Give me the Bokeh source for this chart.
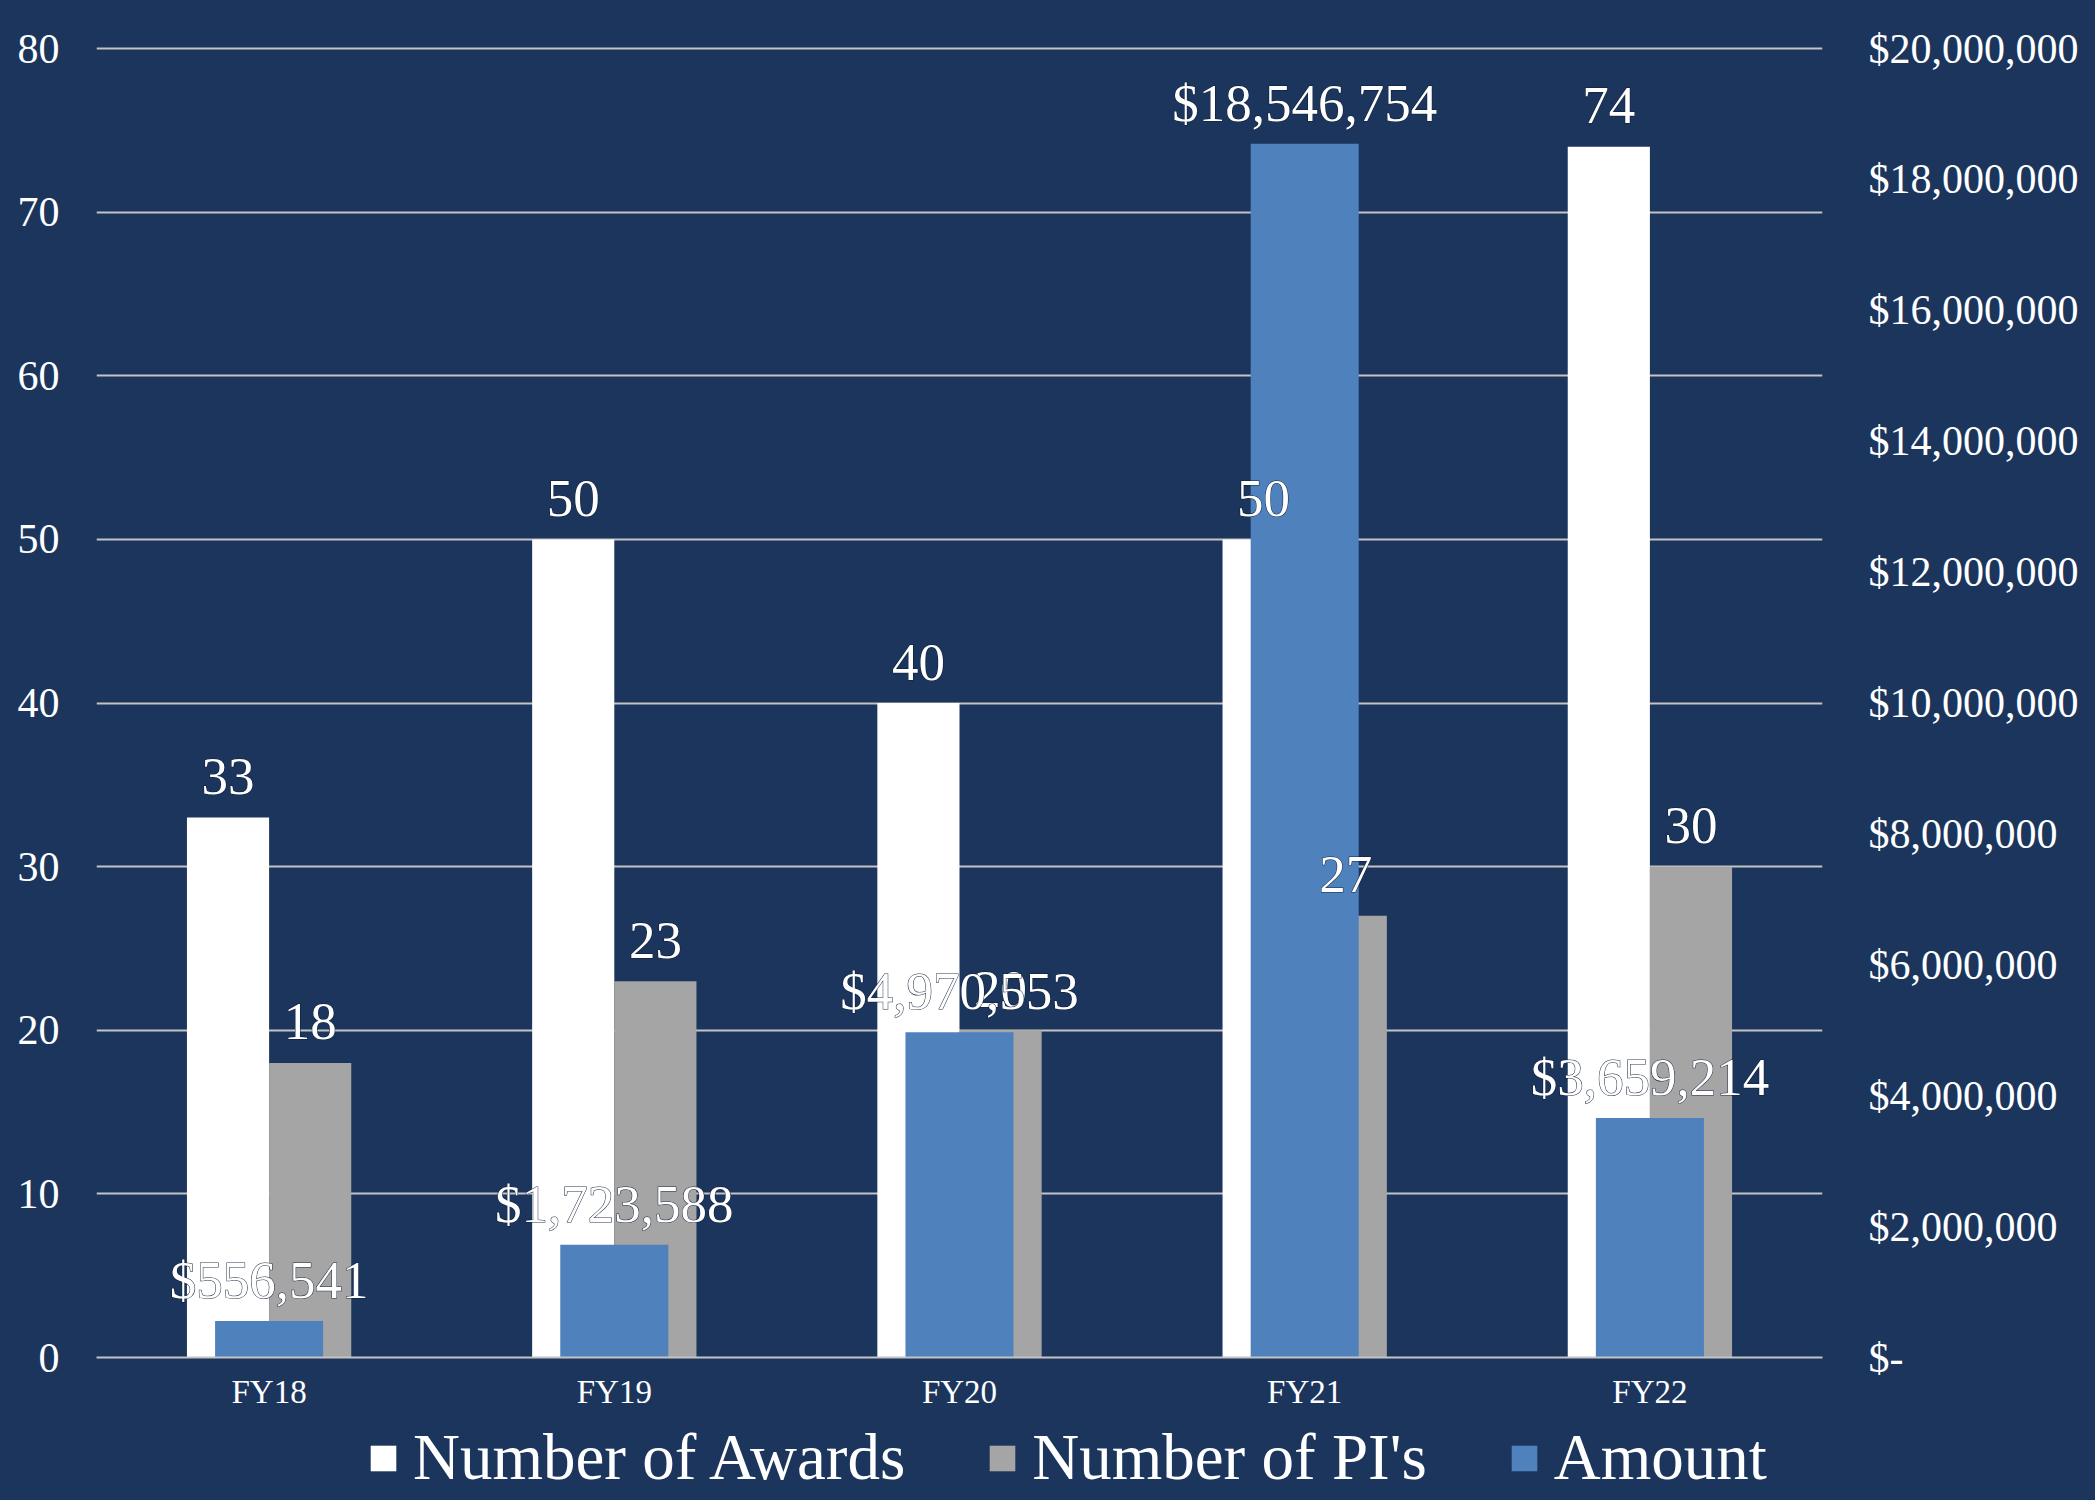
from bokeh.plotting import figure
from bokeh.layouts import column
from bokeh.models import (ColumnDataSource, Range1d, LinearAxis, FactorRange,
                          SingleIntervalTicker, CustomJSTickFormatter, Legend, LegendItem)
from bokeh.transform import dodge
from bokeh.core.properties import value
from bokeh.embed import file_html
from bokeh.resources import INLINE

# ---- data ----
years = ["FY18", "FY19", "FY20", "FY21", "FY22"]
awards = [33, 50, 40, 50, 74]
pis = [18, 23, 20, 27, 30]
amount = [556541, 1723588, 4970553, 18546754, 3659214]
series_names = ["Number of Awards", "Number of PI's", "Amount"]

BG = "#1b355d"
WHITE = "#ffffff"
GRAY = "#a5a5a5"
BLUE = "#4f81bd"
FONT = "Liberation Serif"
HALO = "#0b1a33"

src = ColumnDataSource(dict(
    year=years, awards=awards, pis=pis, amount=amount,
    awards_lbl=[str(v) for v in awards],
    pis_lbl=[str(v) for v in pis],
    amount_lbl=[f"${v:,}" for v in amount],
))

# small headroom above 80 so the top gridline is not clipped by the frame
HEAD = 0.125
p = figure(width=2095, height=1420, x_range=FactorRange(*years, range_padding=0),
           y_range=Range1d(0, 80 + HEAD), output_backend="svg", toolbar_location=None,
           min_border_left=96, min_border_right=273, min_border_top=46,
           min_border_bottom=63)
p.extra_y_ranges = {"amt": Range1d(0, 20_000_000 * (80 + HEAD) / 80)}
p.frame_align = False
p.styles = {"background-color": BG}
p.background_fill_alpha = 0
p.border_fill_alpha = 0
p.outline_line_color = None

# bars
bw = 0.238
p.vbar(x=dodge("year", -bw / 2, range=p.x_range), top="awards", width=bw,
       source=src, fill_color=WHITE, line_color=None)
p.vbar(x=dodge("year", bw / 2, range=p.x_range), top="pis", width=bw,
       source=src, fill_color=GRAY, line_color=None)
p.vbar(x="year", top="amount", width=0.313, source=src, y_range_name="amt",
       fill_color=BLUE, line_color=None)

# data labels (dark halo copy underneath, white text on top)
def labels(x, y, text, **extra):
    base = dict(text_font=value(FONT), text_font_size="53px", text_align="center",
                text_baseline="alphabetic", y_offset=-41, source=src)
    p.text(x=x, y=y, text=text, text_color=HALO, text_outline_color=HALO,
           text_alpha=0.9, **base, **extra)
    p.text(x=x, y=y, text=text, text_color=WHITE, **base, **extra)

labels(dodge("year", -bw / 2, range=p.x_range), "awards", "awards_lbl")
labels(dodge("year", bw / 2, range=p.x_range), "pis", "pis_lbl")
labels("year", "amount", "amount_lbl", y_range_name="amt")

# grid
p.xgrid.grid_line_color = None
p.ygrid.grid_line_color = "#c4c4c4"
p.ygrid.grid_line_width = 2
p.ygrid.ticker = SingleIntervalTicker(interval=10)

# x axis
xa = p.xaxis[0]
xa.axis_line_color = "#c4c4c4"
xa.axis_line_width = 2
xa.major_tick_line_color = None
xa.minor_tick_line_color = None
xa.major_label_standoff = 10
xa.major_label_text_font = FONT
xa.major_label_text_font_size = "33px"
xa.major_label_text_color = WHITE

# left axis
ya = p.yaxis[0]
ya.ticker = SingleIntervalTicker(interval=10)
ya.axis_line_color = None
ya.major_tick_line_color = None
ya.minor_tick_line_color = None
ya.major_label_standoff = 31
ya.major_label_text_font = FONT
ya.major_label_text_font_size = "42px"
ya.major_label_text_color = WHITE

# right axis
ra = LinearAxis(y_range_name="amt", ticker=SingleIntervalTicker(interval=2_000_000),
                formatter=CustomJSTickFormatter(code="""
                    return tick == 0 ? "$-" : "$" + Math.round(tick).toLocaleString("en-US");
                """))
ra.axis_line_color = None
ra.major_tick_line_color = None
ra.minor_tick_line_color = None
ra.major_label_standoff = 40
ra.major_label_text_font = FONT
ra.major_label_text_font_size = "42px"
ra.major_label_text_color = WHITE
p.add_layout(ra, "right")

# ---- legend strip (separate small figure below the chart) ----
lg = figure(width=2095, height=80, x_range=FactorRange(*years), y_range=Range1d(0, 1),
            output_backend="svg", toolbar_location=None,
            x_axis_location=None, y_axis_location=None,
            min_border_left=0, min_border_right=0, min_border_top=0, min_border_bottom=0)
lg.frame_align = False
lg.styles = {"background-color": BG}
lg.background_fill_alpha = 0
lg.border_fill_alpha = 0
lg.outline_line_color = None
lg.grid.grid_line_color = None
swatches = [lg.vbar(x="year", top=col, width=0.1, source=src, fill_color=c,
                    line_color=None, visible=False)
            for col, c in (("awards", WHITE), ("pis", GRAY), ("amount", BLUE))]
legend = Legend(items=[LegendItem(label=n, renderers=[r]) for n, r in zip(series_names, swatches)],
                orientation="horizontal", location=(367, 5),
                glyph_width=32, glyph_height=32, label_standoff=14, spacing=81,
                padding=0, margin=0,
                label_text_font=FONT, label_text_font_size="65px",
                label_text_color=WHITE, inactive_fill_alpha=0,
                background_fill_alpha=0, border_line_alpha=0)
lg.add_layout(legend)

layout = column(p, lg, spacing=0)
open("out.html", "w").write(file_html(layout, INLINE))
